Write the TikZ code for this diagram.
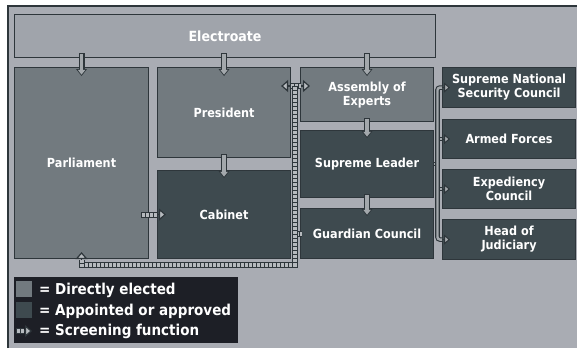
\documentclass[tikz,border=0pt]{standalone}
\usepackage{fontspec}
\newfontfamily\boxfont{DejaVu Sans}[FakeStretch=0.9]
\usetikzlibrary{arrows.meta,calc}

\definecolor{panel}{HTML}{A9ACB3}
\definecolor{electfill}{HTML}{A0A4AB}
\definecolor{edge}{HTML}{2E363B}
\definecolor{direct}{HTML}{727A7F}
\definecolor{appoint}{HTML}{3E4A4F}
\definecolor{legendbg}{HTML}{1D1F26}
\definecolor{shaft}{HTML}{A3A8AC}
\definecolor{railfill}{HTML}{B6BABE}

\tikzset{
  box/.style={draw=edge, line width=1.1pt, text=white, align=center, inner sep=0pt,
    anchor=north west, font=\boxfont\bfseries\fontsize{12.5}{14}\selectfont},
  direct/.style={box, fill=direct},
  appoint/.style={box, fill=appoint},
  legtext/.style={text=white, inner sep=0pt, anchor=west,
    font=\boxfont\bfseries\fontsize{15}{17}\selectfont},
  feed/.style={draw=edge, line width=6pt, -{Triangle[width=11pt,length=7pt,line width=0pt]},
    postaction={draw=shaft, line width=3.6pt, shorten >=1.4pt, shorten <=1pt,
      -{Triangle[width=7.6pt,length=4.8pt,line width=0pt]}}},
  rail/.style={draw=edge, line width=6pt,
    postaction={draw=railfill, line width=4pt},
    postaction={draw=edge, line width=4pt, dash pattern=on 0.8pt off 3.2pt}},
  railtip/.style={draw=edge, line width=1.2pt, -{Triangle[width=12pt,length=7pt,fill=railfill]}},
  bus/.style={draw=edge, line width=4.6pt, postaction={draw=shaft, line width=2.4pt}},
  bustip/.style={draw=edge, line width=1pt, -{Triangle[width=10pt,length=6pt,fill=shaft]}},
}

\begin{document}
\begin{tikzpicture}[x=1pt,y=-1pt]
  \useasboundingbox (0,0) rectangle (577,348);
  % background panel
  \fill[white] (0,0) rectangle (577,348);
  \fill[panel] (8,6) rectangle (577,348);
  \draw[edge, line width=1.5pt] (8,348) -- (8,6) -- (577,6);

  % bodies
  \node[box, fill=electfill, minimum width=421, minimum height=43,
    font=\boxfont\bfseries\fontsize{14}{16}\selectfont] (elect) at (14,14) {Electroate};
  \node[direct, minimum width=134, minimum height=191] (parl) at (14,67) {Parliament};
  \node[direct, minimum width=133, minimum height=90] (pres) at (157,67) {President};
  \node[appoint, minimum width=133, minimum height=88] (cab) at (157,170) {Cabinet};
  \node[direct, minimum width=133, minimum height=54] (asm) at (300,67) {Assembly of\\Experts};
  \node[appoint, minimum width=133, minimum height=67] (lead) at (300,130) {Supreme Leader};
  \node[appoint, minimum width=133, minimum height=50] (guard) at (300,208) {Guardian Council};

  % right column
  \node[appoint, minimum width=133, minimum height=40] (snsc) at (442,67) {Supreme National\\Security Council};
  \node[appoint, minimum width=133, minimum height=39] (armed) at (442,119) {Armed Forces};
  \node[appoint, minimum width=133, minimum height=39] (exped) at (442,169) {Expediency\\Council};
  \node[appoint, minimum width=133, minimum height=40] (judic) at (442,219) {Head of\\Judiciary};

  % elections and appointments
  \draw[feed] ($(elect.south -| parl.north)+(0,-5)$) -- ($(parl.north)+(0,9)$);
  \draw[feed] ($(elect.south -| pres.north)+(0,-5)$) -- ($(pres.north)+(0,9)$);
  \draw[feed] ($(elect.south -| asm.north)+(0,-5)$) -- ($(asm.north)+(0,9)$);
  \draw[feed] ($(pres.south)+(0,-4)$) -- ($(cab.north)+(0,8)$);
  \draw[feed] ($(asm.south)+(0,-4)$) -- ($(lead.north)+(0,8)$);
  \draw[feed] ($(lead.south)+(0,-4)$) -- ($(guard.north)+(0,8)$);

  % leader to right column
  \coordinate (bx) at (437.5,0);
  \draw[bus] (lead.east) -- (bx |- lead.east);
  \draw[bus] (bx |- armed.west) -- (armed.west);
  \draw[bus] (bx |- exped.west) -- (exped.west);
  \draw[bus, rounded corners=2.5pt] (snsc.west) -| (bx |- judic.west) -- (judic.west);
  \foreach \n in {snsc, armed, exped, judic}
    \draw[bustip] (\n.west) -- ($(\n.west)+(8,0)$);

  % screening
  \coordinate (scr) at (294.5,86);
  \coordinate (scrb) at (294.5,264.5);
  \draw[rail] (scr |- guard.west) -- ($(guard.west)+(2,0)$);
  \draw[rail] ($(pres.east |- scr)+(-1,0)$) -- ($(asm.west |- scr)+(1,0)$);
  \draw[rail] (scr) -- (scrb) -| ($(parl.south)+(0,1)$);
  \draw[railtip] ($(pres.east |- scr)+(-1,0)$) -- ($(pres.east |- scr)+(-10,0)$);
  \draw[railtip] ($(asm.west |- scr)+(1,0)$) -- ($(asm.west |- scr)+(10,0)$);
  \draw[railtip] ($(parl.south)+(0,1)$) -- ($(parl.south)+(0,-7)$);
  \draw[rail] ($(cab.west)+(-16,0)$) -- (cab.west);
  \draw[railtip] (cab.west) -- ($(cab.west)+(9,0)$);

  % legend
  \node[fill=legendbg, minimum width=224, minimum height=66, inner sep=0pt, anchor=north west] (legend) at (14,277) {};
  \node[fill=direct, minimum size=16, inner sep=0pt, anchor=north west] (keyd) at (16,281) {};
  \node[legtext] (keydtxt) at (39,290) {= Directly elected};
  \node[fill=appoint, minimum size=16, inner sep=0pt, anchor=north west] (keya) at (16,302) {};
  \node[legtext] (keyatxt) at (39,311) {= Appointed or approved};
  \coordinate (keys) at (16,331);
  \draw[rail] (keys) -- ++(8,0) coordinate (keyst);
  \draw[railtip] (keyst) -- ++(8,0);
  \node[legtext] (keystxt) at (39,331) {= Screening function};
\end{tikzpicture}
\end{document}
